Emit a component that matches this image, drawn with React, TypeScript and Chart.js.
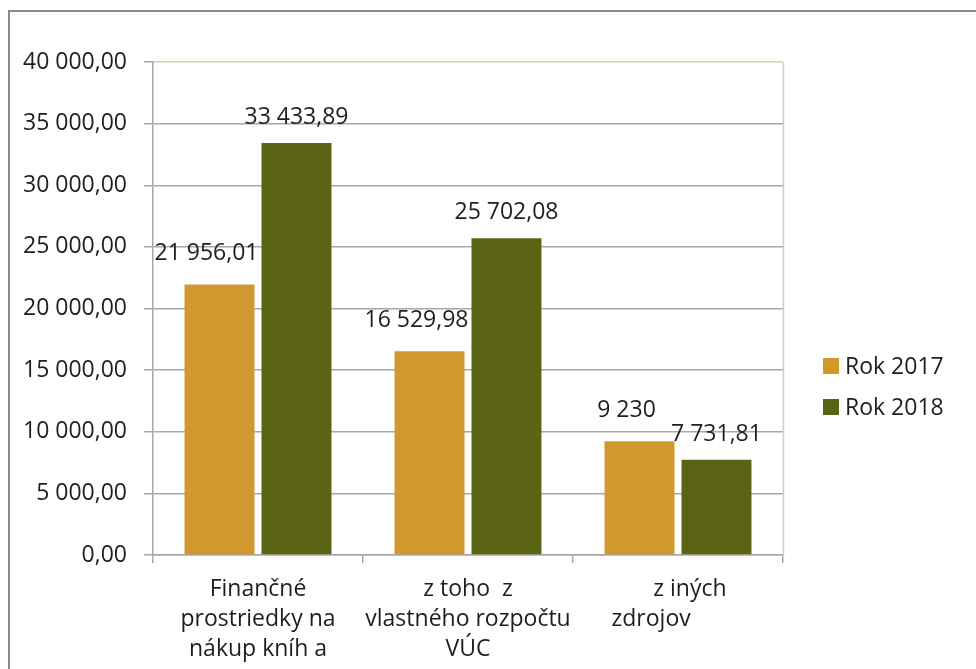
import React, { useEffect, useRef } from "react";
import { Chart, registerables } from "chart.js";

Chart.register(...registerables);

const categories: string[][] = [
  ["Finančné", "prostriedky na", "nákup kníh a"],
  ["z toho  z", "vlastného rozpočtu", "VÚC"],
  ["    z iných", "zdrojov         "],
];
const seriesNames = ["Rok 2017", "Rok 2018"];
const values2017 = [21956.01, 16529.98, 9230];
const values2018 = [33433.89, 25702.08, 7731.81];
const labels2017 = ["21 956,01", "16 529,98", "9 230"];
const labels2018 = ["33 433,89", "25 702,08", "7 731,81"];
const yMin = 0;
const yMax = 40000;
const yStep = 5000;

const COLOR_2017 = "#D1982E";
const COLOR_2018 = "#5B6414";
const FONT = "'Open Sans', 'Noto Sans', sans-serif";
const FONT_SIZE = 23;
const TEXT = "#1e1e1e";
const GRID = "#a8a8a8";
const TAN = "#d8cfa6";

function formatTick(v: number): string {
  const s = Math.round(v).toString();
  const grouped = s.replace(/\B(?=(\d{3})+(?!\d))/g, " ");
  return grouped + ",00";
}

const framePlugin = {
  id: "frame",
  beforeDraw(chart: any) {
    const { ctx, width, height } = chart;
    ctx.save();
    ctx.fillStyle = "#ffffff";
    ctx.fillRect(0, 0, width, height);
    ctx.fillStyle = "#8a8a8a";
    ctx.fillRect(8, 10, width - 8, 2);
    ctx.fillRect(8, 10, 2, height - 10);
    ctx.restore();
  },
  beforeDatasetsDraw(chart: any) {
    const { ctx, chartArea } = chart;
    ctx.save();
    ctx.strokeStyle = TAN;
    ctx.lineWidth = 1.5;
    ctx.beginPath();
    ctx.moveTo(chartArea.right + 0.5, chartArea.top);
    ctx.lineTo(chartArea.right + 0.5, chartArea.bottom);
    ctx.stroke();
    ctx.restore();
  },
};

const valueLabelPlugin = {
  id: "valueLabels",
  afterDatasetsDraw(chart: any) {
    const { ctx } = chart;
    const texts = [labels2017, labels2018];
    const offsets = [
      { dx: -13, dy: 24 },
      { dx: 0, dy: 19 },
    ];
    ctx.save();
    ctx.font = `${FONT_SIZE}px ${FONT}`;
    ctx.fillStyle = TEXT;
    ctx.textAlign = "center";
    ctx.textBaseline = "alphabetic";
    chart.data.datasets.forEach((_ds: any, di: number) => {
      const meta = chart.getDatasetMeta(di);
      meta.data.forEach((bar: any, i: number) => {
        ctx.fillText(texts[di][i], bar.x + offsets[di].dx, bar.y - offsets[di].dy);
      });
    });
    ctx.restore();
  },
};

const legendPlugin = {
  id: "customLegend",
  afterDraw(chart: any) {
    const { ctx, chartArea } = chart;
    const x0 = chartArea.right + 40;
    const y0 = 366;
    ctx.save();
    ctx.font = `${FONT_SIZE}px ${FONT}`;
    ctx.textBaseline = "middle";
    ctx.textAlign = "left";
    chart.data.datasets.forEach((ds: any, i: number) => {
      const cy = y0 + i * 41;
      ctx.fillStyle = ds.backgroundColor;
      ctx.fillRect(x0, cy - 8, 16, 16);
      ctx.fillStyle = TEXT;
      ctx.fillText(ds.label, x0 + 22, cy + 1);
    });
    ctx.restore();
  },
};

export default function App() {
  const ref = useRef<HTMLCanvasElement | null>(null);

  useEffect(() => {
    if (!ref.current) return;
    const chart = new Chart(ref.current, {
      type: "bar",
      data: {
        labels: categories,
        datasets: [
          {
            label: seriesNames[0],
            data: values2017,
            backgroundColor: COLOR_2017,
            categoryPercentage: 0.733,
            barPercentage: 0.909,
          },
          {
            label: seriesNames[1],
            data: values2018,
            backgroundColor: COLOR_2018,
            categoryPercentage: 0.733,
            barPercentage: 0.909,
          },
        ],
      },
      options: {
        animation: false,
        responsive: false,
        maintainAspectRatio: false,
        layout: { padding: { left: 0, top: 62, right: 193, bottom: 0 } },
        plugins: {
          legend: { display: false },
          tooltip: { enabled: false },
          title: { display: false },
        },
        scales: {
          x: {
            offset: true,
            grid: {
              offset: true,
              drawOnChartArea: false,
              drawTicks: true,
              tickLength: 8,
              tickColor: GRID,
              lineWidth: 1.5,
            },
            border: { display: true, color: GRID, width: 1.5 },
            ticks: {
              color: TEXT,
              font: { family: FONT, size: FONT_SIZE, lineHeight: 1.3 },
              padding: 12,
              maxRotation: 0,
              minRotation: 0,
              autoSkip: false,
            },
            afterFit(scale: any) {
              scale.height = 114;
            },
          },
          y: {
            min: yMin,
            max: yMax,
            grid: {
              color: (c: any) => (c.tick && c.tick.value === yMax ? TAN : GRID),
              tickColor: GRID,
              tickLength: 9,
              lineWidth: 1.5,
            },
            border: { display: true, color: GRID, width: 1.5 },
            ticks: {
              stepSize: yStep,
              color: TEXT,
              font: { family: FONT, size: FONT_SIZE },
              padding: 17,
              callback: (v: any) => formatTick(Number(v)),
            },
            afterFit(scale: any) {
              scale.width = 153;
            },
          },
        },
      },
      plugins: [framePlugin, valueLabelPlugin, legendPlugin],
    });
    return () => chart.destroy();
  }, []);

  return (
    <div style={{ position: "fixed", left: 0, top: 0, width: 976, height: 669 }}>
      <canvas ref={ref} width={976} height={669} style={{ width: 976, height: 669, display: "block" }} />
    </div>
  );
}
